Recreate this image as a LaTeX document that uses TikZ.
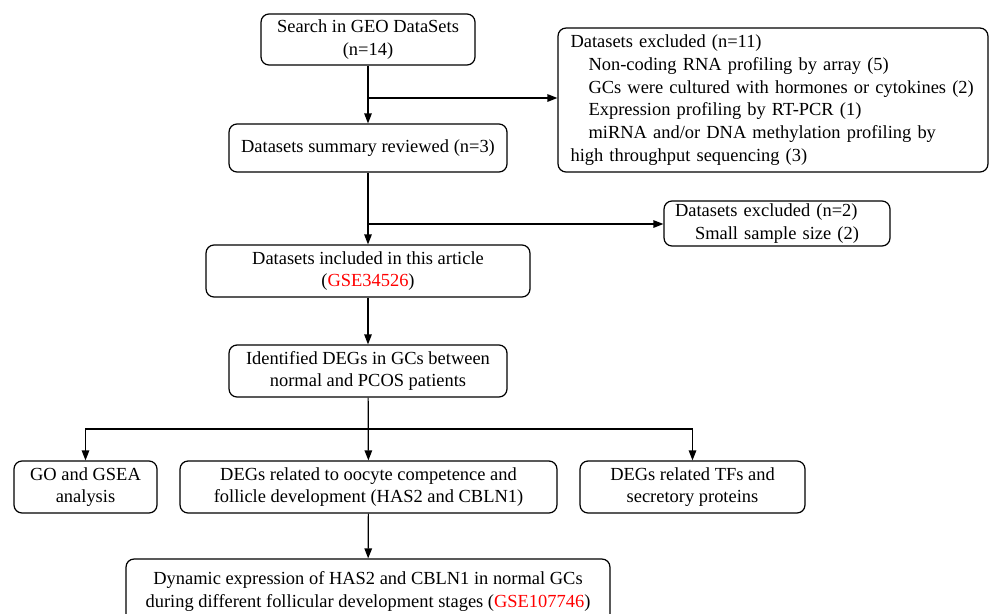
\documentclass[tikz,border=0pt]{standalone}
\usepackage{fontspec}
\setmainfont{Liberation Serif}
\usetikzlibrary{arrows.meta}
\tikzset{
  box/.style={draw, rounded corners=0.16cm, line width=0.7pt, align=center, inner sep=0pt},
  leftbox/.style={box, align=left},
  arr/.style={-{Triangle[length=2mm,width=1.5mm]}, line width=0.7pt}
}
\newcommand{\ind}{\hspace*{0.36cm}}
\begin{document}
\begin{tikzpicture}[x=0.02cm,y=-0.02cm,font=\fontsize{10.5}{12.9}\selectfont]
\useasboundingbox (0,0) rectangle (990,613);
% main column
\node[box, minimum width=4.28cm, minimum height=1.02cm] (search) at (368,39.5) {Search in GEO DataSets\\(n=14)};
\node[box, minimum width=5.56cm, minimum height=0.96cm] (summary) at (368,148) {Datasets summary reviewed (n=3)};
\node[box, minimum width=6.48cm, minimum height=1.04cm] (incl) at (368,271) {Datasets included in this article\\(\textcolor{red}{GSE34526})};
\node[box, minimum width=5.56cm, minimum height=1.04cm] (degs) at (368,371) {Identified DEGs in GCs between\\normal and PCOS patients};
\node[box, minimum width=2.86cm, minimum height=1.04cm] (go) at (85.5,487) {GO and GSEA\\analysis};
\node[box, minimum width=7.54cm, minimum height=1.04cm] (oocyte) at (368.5,487) {DEGs related to oocyte competence and\\follicle development (HAS2 and CBLN1)};
\node[box, minimum width=4.5cm, minimum height=1.04cm] (tfs) at (692.5,487) {DEGs related TFs and\\secretory proteins};
\node[box, minimum width=9.68cm, minimum height=1.3cm] (dyn) at (368,591.5) {Dynamic expression of HAS2 and CBLN1 in normal GCs\\during different follicular development stages (\textcolor{red}{GSE107746})};
% excluded boxes
\node[leftbox, inner xsep=0.25cm, text width=8.1cm, minimum height=2.88cm] (excl1) at (773,100) {Datasets excluded (n=11)\\
\ind Non-coding RNA profiling by array (5)\\
\ind GCs were cultured with hormones or cytokines (2)\\
\ind Expression profiling by RT-PCR (1)\\
\ind miRNA and/or DNA methylation profiling by\\
high throughput sequencing (3)};
\node[leftbox, inner xsep=0.22cm, text width=4.08cm, minimum height=0.9cm] (excl2) at (777,223.5) {Datasets excluded (n=2)\\
\hspace*{0.4cm}Small sample size (2)};
% branch points
\coordinate (b1) at (368,98);
\coordinate (b2) at (368,224);
\coordinate (b3) at (368,429);
% connectors
\draw[arr] (search) -- (summary);
\draw[arr] (b1) -- (b1 -| excl1.west);
\draw[arr] (summary) -- (incl);
\draw[arr] (b2) -- (b2 -| excl2.west);
\draw[arr] (incl) -- (degs);
\draw[arr] (degs) -- (oocyte);
\draw[arr] (b3) -| (go.north);
\draw[arr] (b3) -| (tfs.north);
\draw[arr] (oocyte) -- (dyn);
\end{tikzpicture}
\end{document}
